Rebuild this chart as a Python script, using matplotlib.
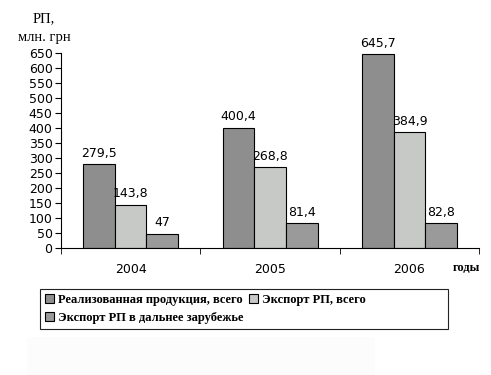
import matplotlib.pyplot as plt
from matplotlib.patches import Rectangle
import numpy as np

years = ['2004', '2005', '2006']
realiz = [279.5, 400.4, 645.7]
eksport = [143.8, 268.8, 384.9]
dalnee = [47, 81.4, 82.8]
labels_realiz = ['279,5', '400,4', '645,7']
labels_eksport = ['143,8', '268,8', '384,9']
labels_dalnee = ['47', '81,4', '82,8']
series_names = ['Реализованная продукция, всего', 'Экспорт РП, всего',
                'Экспорт РП в дальнее зарубежье']

fig = plt.figure(figsize=(4.91, 3.75), dpi=100)
ax = fig.add_axes([0.124, 0.339, 0.852, 0.52])

x = np.arange(len(years))
w = 0.227
colors = ['#8e8e8e', '#c6c9c6', '#9a9a9a']
data = [realiz, eksport, dalnee]
labs = [labels_realiz, labels_eksport, labels_dalnee]
bars = []
for i in range(3):
    b = ax.bar(x + (i - 1) * w, data[i], w, color=colors[i], edgecolor='black',
               linewidth=0.8, label=series_names[i])
    bars.append(b)
    for xi, v, t in zip(x + (i - 1) * w, data[i], labs[i]):
        ax.text(xi, v + 15, t, ha='center', va='bottom', fontsize=9,
                family='DejaVu Sans')

ax.set_xlim(-0.5, 2.5)
ax.set_ylim(0, 650)
ax.set_yticks(np.arange(0, 651, 50))
ax.set_xticks(x)
ax.set_xticklabels(years, family='DejaVu Sans', fontsize=9)
ax.set_xticks([-0.5, 0.5, 1.5, 2.5], minor=True)
ax.tick_params(axis='x', which='major', length=0, pad=11)
ax.tick_params(axis='x', which='minor', length=4, direction='out')
ax.tick_params(axis='y', length=4, direction='out', labelsize=9, pad=2)
for lab in ax.get_yticklabels():
    lab.set_family('DejaVu Sans')
ax.spines['top'].set_visible(False)
ax.spines['right'].set_visible(False)

fig.text(0.09, 0.94, 'РП,', ha='center', fontsize=10.5, family='Liberation Serif')
fig.text(0.09, 0.89, 'млн. грн', ha='center', fontsize=10.5, family='Liberation Serif')
fig.text(0.978, 0.278, 'годы', ha='right', fontsize=9, fontweight='bold',
         family='Liberation Serif')

# column-major fill: s1, s3 in first column, s2 in second
order = [0, 2, 1]
leg = fig.legend(handles=[bars[k] for k in order],
                 labels=[series_names[k] for k in order], ncol=2,
                 loc='upper left', bbox_to_anchor=(0.083, 0.226),
                 prop={'family': 'Liberation Serif', 'weight': 'bold', 'size': 9},
                 frameon=False,
                 handlelength=0.75, handleheight=0.75, handletextpad=0.3,
                 columnspacing=0.45, borderpad=0.3, labelspacing=0.45,
                 borderaxespad=0)

# legend frame is wider than its entries
fig.patches.append(Rectangle((40 / 491, 1 - 329 / 375), 408 / 491, 40 / 375,
                             transform=fig.transFigure, fill=False,
                             edgecolor='#222222', linewidth=0.8))
# faint off-white block under the legend
fig.patches.append(Rectangle((27 / 491, 0), 348 / 491, 38 / 375,
                             transform=fig.transFigure, facecolor='#fcfcfc',
                             edgecolor='none', zorder=0))

fig.savefig('out.png', dpi=100)
